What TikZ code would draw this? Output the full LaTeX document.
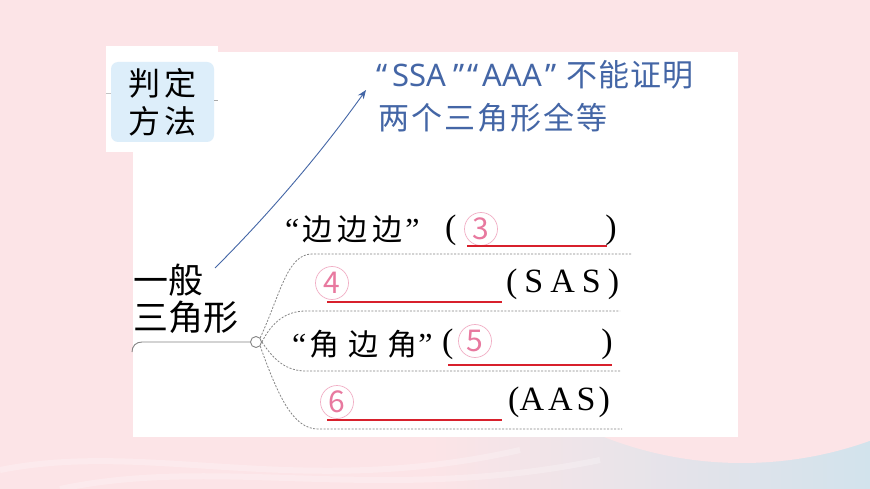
\documentclass[tikz,border=0pt]{standalone}
\usepackage{fontspec}
\setmainfont{Liberation Serif}
\newfontfamily\cjk{Noto Sans CJK SC}
\newfontfamily\pensans{Noto Sans}
\usetikzlibrary{arrows.meta}
\definecolor{bgpink}{HTML}{FCE4E7}
\definecolor{bgblue}{HTML}{D2E3EC}
\definecolor{boxblue}{HTML}{DDEEFA}
\definecolor{penblue}{HTML}{4466A6}
\definecolor{numpink}{HTML}{E8799F}
\definecolor{ansred}{HTML}{D8202C}
\definecolor{branchgray}{HTML}{858585}
\begin{document}
\begin{tikzpicture}[x=1pt,y=-1pt]
			\tikzstyle{every node}+=[inner sep=0pt]
			\tikzstyle{num}=[circle,draw=numpink!60,line width=0.7pt,minimum size=33pt,text=numpink,font=\fontsize{30}{30}\cjk]
			\tikzstyle{blank}=[ansred,line width=1.6pt]
			\tikzstyle{branch}=[branchgray,line width=0.8pt,dash pattern=on 2pt off 1.5pt]
			\tikzstyle{row}=[anchor=west,font=\fontsize{30}{30}\cjk]
			\tikzstyle{latin}=[anchor=west,font=\fontsize{34}{34}\selectfont]
			\tikzstyle{pen}=[anchor=west,text=penblue,font=\fontsize{31}{31}\cjk]
			\tikzstyle{wave}=[white,opacity=0.25,line width=6pt]
			% background
			\useasboundingbox (0,0) rectangle (870,489);
			\fill [bgpink] (0,0) rectangle (870,489);
			\shade [left color=bgpink,right color=bgblue] (430,380) rectangle (870,489);
			\begin{scope}
			\clip (0,0) rectangle (870,489);
			\fill [bgpink] (742,85) circle (378);
			\draw [wave] (0,470) .. controls (150,440) and (300,500) .. (520,450);
			\draw [wave] (60,489) .. controls (220,455) and (380,505) .. (600,460);
			\end{scope}
			\fill [white] (133,52) rectangle (738,437);
			\fill [white] (106,46) rectangle (218,152);
			% title box
			\node [fill=boxblue,rounded corners=7pt,minimum width=103pt,minimum height=80pt,align=center,font=\fontsize{32}{38}\cjk] (jd) at (162.5,102) {判\kern4pt定\\方\kern4pt法};
			\draw [branchgray!50,line width=0.4pt] ([yshift=9pt]jd.west) -- ++(-5,0);
			\draw [branchgray!70,line width=0.6pt] ([yshift=2pt]jd.east) -- ++(4,0);
			% note
			\node [pen] (ssa) at (376,75) {{\pensans “\kern5pt SSA\kern7pt ”\kern3pt“\kern4pt AAA\kern4pt ”}\kern10pt 不\kern1pt 能\kern1pt 证\kern1pt 明};
			\node [pen] (qd) at (378,118) {两\kern2pt 个\kern2pt 三\kern2pt 角\kern2pt 形\kern2pt 全\kern2pt 等};
			% root
			\node [anchor=west,align=left,font=\fontsize{35}{37}\cjk] (yb) at (133,299) {一般\\三角形};
			\node [circle,draw=branchgray,fill=white,line width=0.9pt,minimum size=11pt] (hub) at (256,342) {};
			\coordinate (tail) at (132,352);
			\coordinate (bend) at (142,342);
			\draw [branchgray,line width=0.9pt] (tail) .. controls (132,346) and (136,342) .. (bend) -- (hub.west);
			\coordinate (as) at (215,268);
			\coordinate (ae) at (366,90);
			\draw [penblue,line width=0.9pt,-{Stealth[length=9pt,width=7pt]}] (as) .. controls (270,213) and (321,153) .. (ae);
			% branches
			\coordinate (b1) at (312,254);
			\coordinate (e1) at (632,254);
			\coordinate (b2) at (306,311);
			\coordinate (e2) at (620,311);
			\coordinate (b3) at (306,371);
			\coordinate (e3) at (620,371);
			\coordinate (b4) at (318,429);
			\coordinate (e4) at (622,429);
			\draw [branch] (hub.north east) .. controls +(20,-43) and +(-25,0) .. (b1) -- (e1);
			\draw [branch] (hub.east) .. controls +(10,-20) and +(-20,0) .. (b2) -- (e2);
			\draw [branch] (hub.east) .. controls +(12,18) and +(-20,0) .. (b3) -- (e3);
			\draw [branch] (hub.south east) .. controls +(18,50) and +(-25,0) .. (b4) -- (e4);
			% row 1
			\node [row] (sss) at (285,229) {{\fontsize{32}{32}\rmfamily “}\kern3pt 边\kern5pt 边\kern5pt 边\kern3pt{\fontsize{32}{32}\rmfamily ”}};
			\node [latin] (p1) at (445,230) {(};
			\node [num] (n3) at (481,229) {3};
			\node [latin,anchor=east] (q1) at (617,230) {)};
			\draw [blank] (467,246) -- (607,246);
			% row 2
			\node [num] (n4) at (332,283) {4};
			\draw [blank] (327,302) -- (502,302);
			\node [latin] (sas) at (506,284) {(\kern7pt S\kern7pt A\kern7pt S\kern7pt)};
			% row 3
			\node [row] (asa) at (292,344) {{\fontsize{32}{32}\rmfamily “}\kern3pt 角\kern9pt 边\kern9pt 角\kern1pt{\fontsize{32}{32}\rmfamily ”}};
			\node [latin] (p3) at (442,344) {(};
			\node [num] (n5) at (475,341) {5};
			\node [latin,anchor=east] (q3) at (613,344) {)};
			\draw [blank] (448,365) -- (612,365);
			% row 4
			\node [num] (n6) at (337,402) {6};
			\draw [blank] (327,420) -- (502,420);
			\node [latin] (aas) at (508,402) {(A\kern4pt A\kern4pt S\kern3pt)};
\end{tikzpicture}
\end{document}
